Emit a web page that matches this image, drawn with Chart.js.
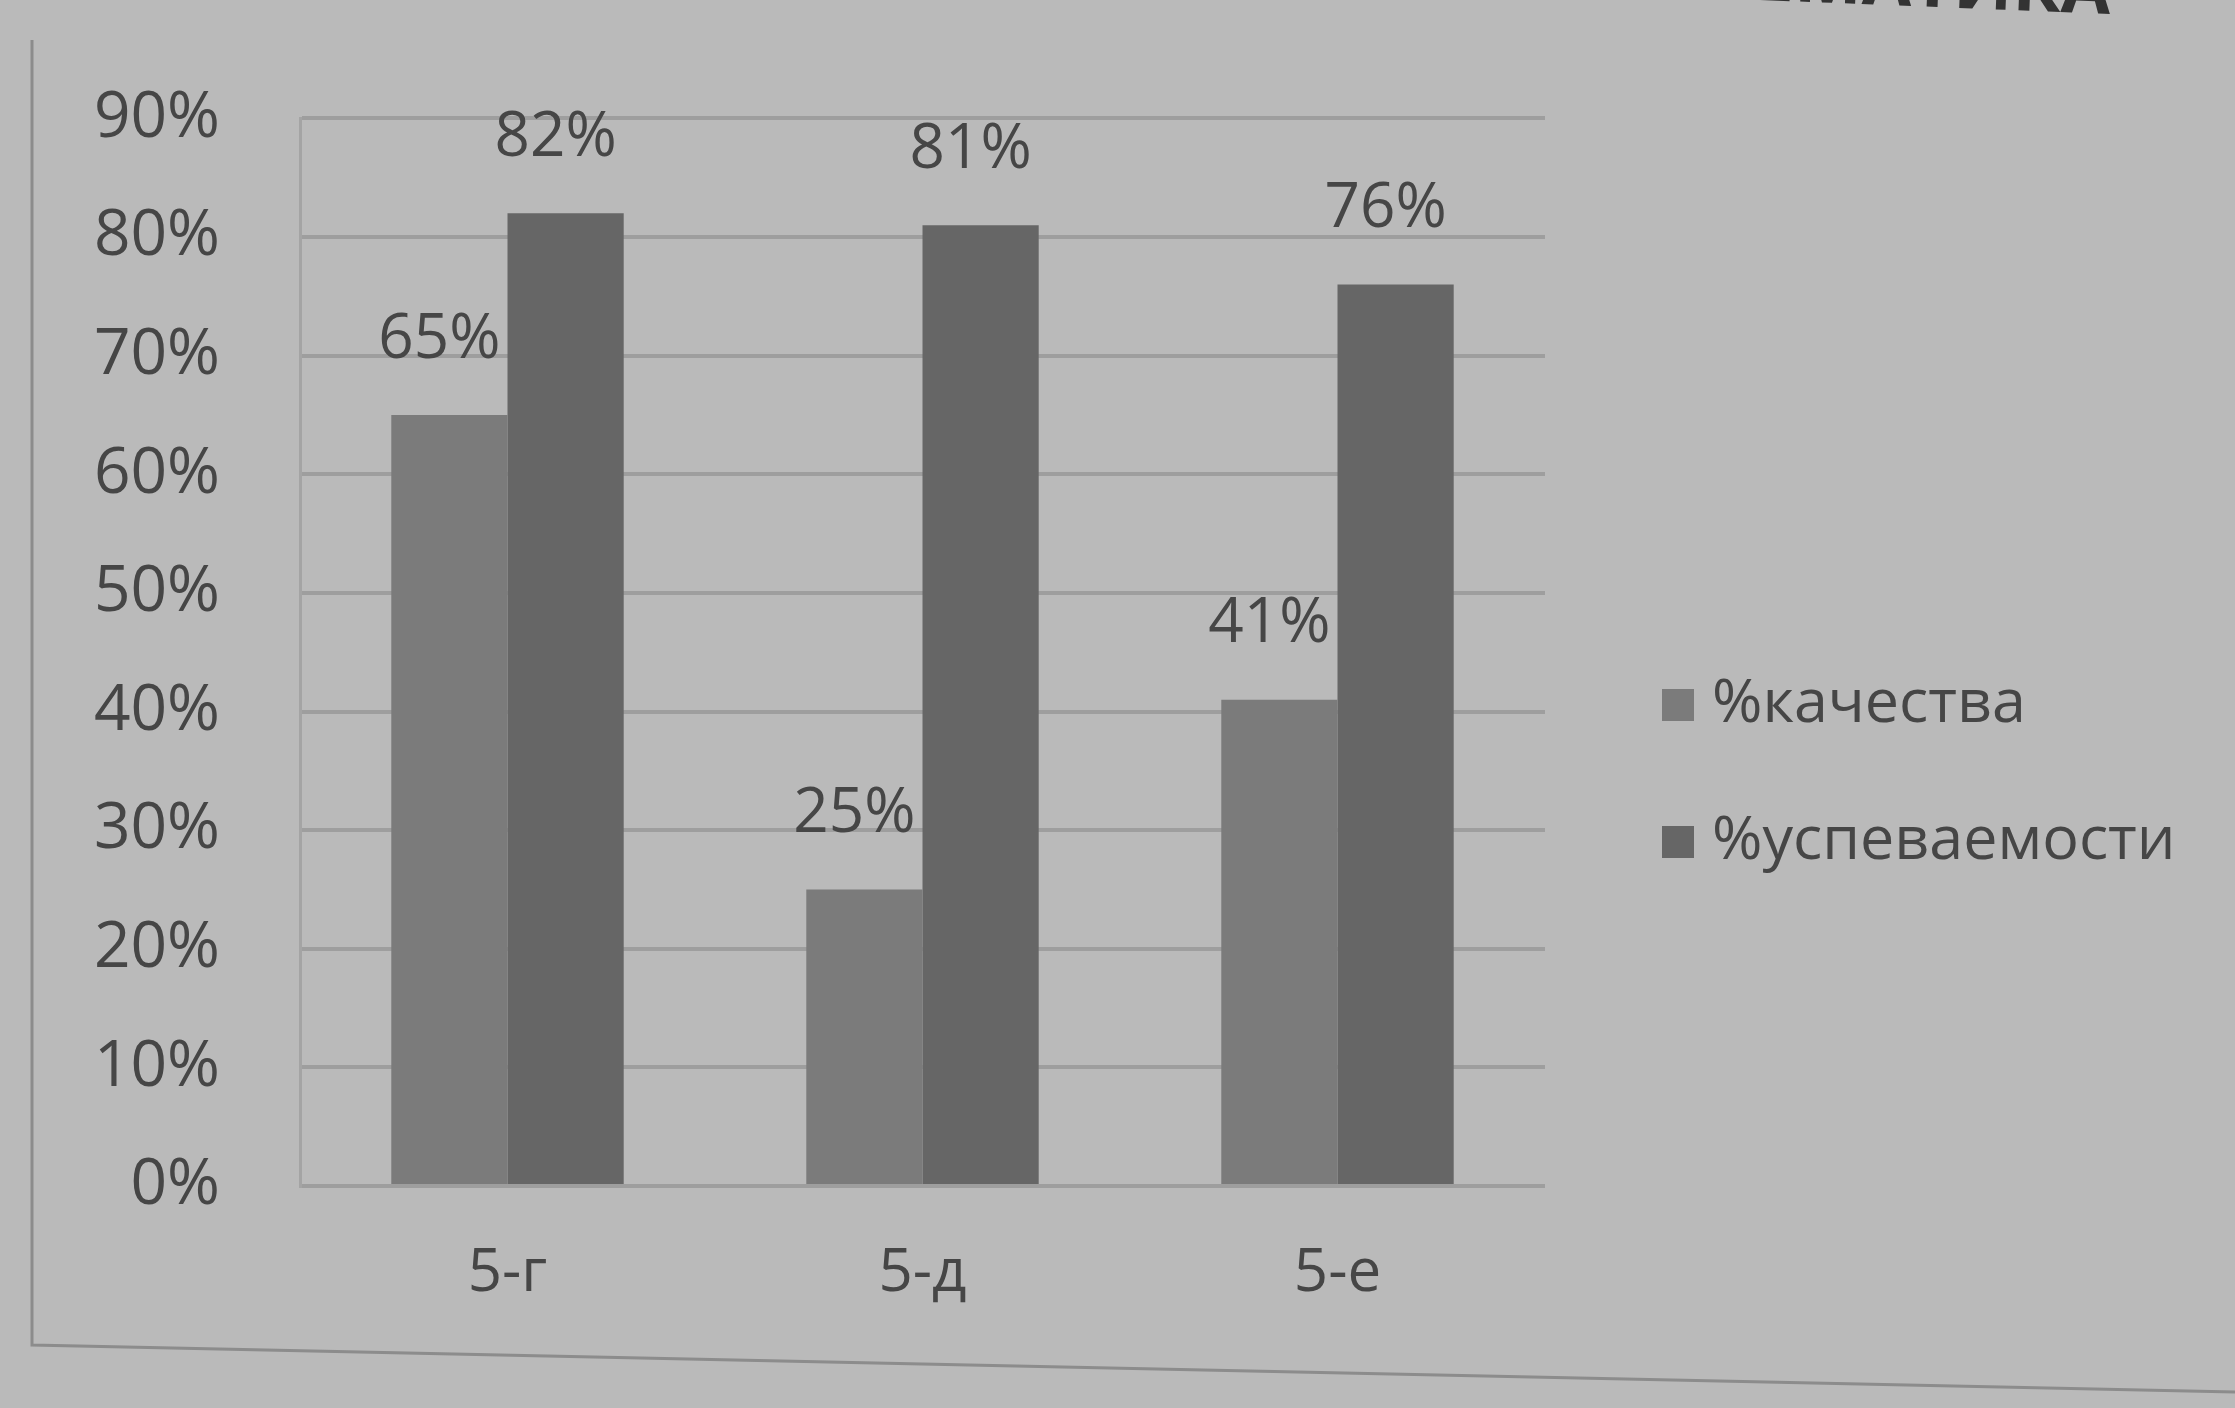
<!DOCTYPE html>
<html>
<head>
<meta charset="utf-8">
<script src="https://cdn.jsdelivr.net/npm/chart.js@4.4.0/dist/chart.umd.min.js"></script>
<style>
    html, body { margin: 0; padding: 0; background: #bababa; }
    #wrap { width: 2235px; height: 1408px; position: relative; }
</style>
</head>
<body>
<div id="wrap"><canvas id="chart"></canvas></div>
<script>
// =============================================================
// DATA
// =============================================================
const classes   = ["5-г", "5-д", "5-е"];
const quality   = [65, 25, 41];   // %качества
const progress  = [82, 81, 76];   // %успеваемости
const seriesNames = ["%качества", "%успеваемости"];

const FONT = "'Open Sans', 'Liberation Sans', sans-serif";
const TEXT = "#464646";

// =============================================================
// PLUGINS
// =============================================================

// Paper background + frame + cut title
const paperPlugin = {
    id: "paper",
    beforeDraw(chart) {
        const c = chart.ctx;
        c.save();
        c.fillStyle = "#bababa";
        c.fillRect(0, 0, chart.width, chart.height);

        // frame of the printed chart
        c.strokeStyle = "#8c8c8c";
        c.lineWidth = 3;
        c.beginPath();
        c.moveTo(32, 40);
        c.lineTo(32, 1345);
        c.lineTo(2235, 1392);
        c.stroke();

        // title cut at the top (slightly tilted like the photo)
        c.translate(2110, 14);
        c.rotate(0.04);
        c.fillStyle = "#333";
        c.font = "bold 72px " + FONT;
        c.textAlign = "right";
        c.textBaseline = "alphabetic";
        c.fillText("МАТЕМАТИКА", 0, 0);
        c.restore();
    }
};

// Value labels above each bar
const valueLabels = {
    id: "valueLabels",
    afterDatasetsDraw(chart) {
        const c = chart.ctx;
        c.save();
        c.fillStyle = TEXT;
        c.font = "62px " + FONT;
        c.textAlign = "center";
        c.textBaseline = "bottom";
        chart.data.datasets.forEach((ds, i) => {
            chart.getDatasetMeta(i).data.forEach((bar, j) => {
                c.fillText(ds.data[j] + "%", bar.x - 10, bar.y - 44);
            });
        });
        c.restore();
    }
};

// Legend on the right
const sideLegend = {
    id: "sideLegend",
    afterDraw(chart) {
        const c = chart.ctx;
        c.save();
        c.font = "61px " + FONT;
        c.textBaseline = "middle";
        c.textAlign = "left";
        const rows = [705, 842];
        chart.data.datasets.forEach((ds, i) => {
            c.fillStyle = ds.backgroundColor;
            c.fillRect(1662, rows[i] - 16, 32, 32);
            c.fillStyle = TEXT;
            c.fillText(ds.label, 1712, rows[i]);
        });
        c.restore();
    }
};

// =============================================================
// CHART
// =============================================================
new Chart(document.getElementById("chart"), {
    type: "bar",
    data: {
        labels: classes,
        datasets: [
            { label: seriesNames[0], data: quality,  backgroundColor: "#7b7b7b" },
            { label: seriesNames[1], data: progress, backgroundColor: "#666666" }
        ]
    },
    options: {
        responsive: true,
        maintainAspectRatio: false,
        animation: false,
        layout: { padding: { top: 118, right: 690, left: 0, bottom: 0 } },
        plugins: {
            legend:  { display: false },
            tooltip: { enabled: false }
        },
        datasets: {
            bar: { barPercentage: 1.0, categoryPercentage: 0.56 }
        },
        scales: {
            x: {
                grid: { display: false },
                border: { display: false },
                ticks: {
                    color: TEXT,
                    font: { family: FONT, size: 60 },
                    padding: 44
                },
                afterFit(scale) { scale.height = 222; }
            },
            y: {
                min: 0,
                max: 90,
                grid: { color: "#9e9e9e", lineWidth: 4, drawTicks: false },
                border: { display: true, color: "#a4a4a4", width: 3 },
                ticks: {
                    stepSize: 10,
                    color: TEXT,
                    padding: 80,
                    font: { family: FONT, size: 64 },
                    callback: v => v + "%"
                },
                afterFit(scale) { scale.width = 300; }
            }
        }
    },
    plugins: [paperPlugin, valueLabels, sideLegend]
});
</script>
</body>
</html>
